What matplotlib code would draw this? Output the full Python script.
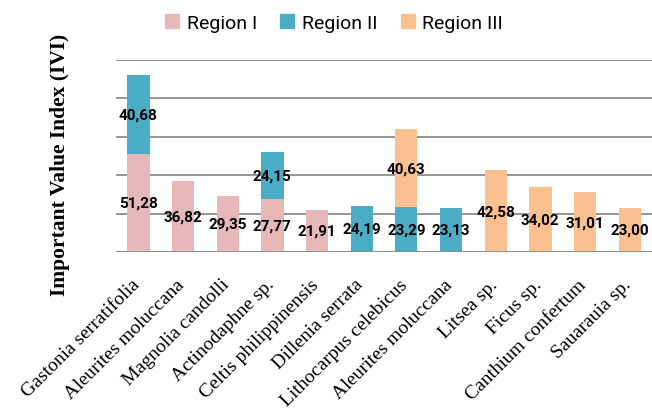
import numpy as np
import matplotlib
matplotlib.use("Agg")
import matplotlib.pyplot as plt
import matplotlib.transforms as mtransforms
from matplotlib.patches import Patch

# data
species = ["Gastonia serratifolia", "Aleurites moluccana", "Magnolia candolli",
           "Actinodaphne sp.", "Celtis philippinensis", "Dillenia serrata",
           "Lithocarpus celebicus", "Aleurites moluccana", "Litsea sp.",
           "Ficus sp.", "Canthium confertum", "Sauarauia sp."]
region1 = [51.28, 36.82, 29.35, 27.77, 21.91, 0, 0, 0, 0, 0, 0, 0]
region2 = [40.68, 0, 0, 24.15, 0, 24.19, 23.29, 23.13, 0, 0, 0, 0]
region3 = [0, 0, 0, 0, 0, 0, 40.63, 0, 42.58, 34.02, 31.01, 23.00]
regions = ["Region I", "Region II", "Region III"]
colors = ["#E6B9B8", "#4BACC6", "#FAC090"]

NUM_FONT = ["Roboto", "DejaVu Sans"]
SERIF = ["Liberation Serif", "DejaVu Serif"]

fig = plt.figure(figsize=(6.52, 4.10), dpi=100)
ax = fig.add_axes([116/652, 1 - 253/410, 536/652, (253 - 61)/410])

x = np.arange(len(species))
bottom = np.zeros(len(species))
for vals, col in zip([region1, region2, region3], colors):
    vals = np.array(vals)
    ax.bar(x, vals, width=0.5, bottom=bottom, color=col, zorder=3)
    for xi, b, v in zip(x, bottom, vals):
        if v > 0:
            ax.text(xi, b + v / 2, f"{v:.2f}".replace(".", ","), ha="center", va="center",
                    fontsize=11, fontweight="bold", family=NUM_FONT, zorder=4)
    bottom += vals

ax.set_xlim(-0.5, 11.5)
ax.set_ylim(0, 100)
ax.set_yticks(np.arange(0, 101, 20))
ax.yaxis.grid(True, color="#8c8c8c", lw=1.3, zorder=0)
ax.tick_params(axis="y", left=False, labelleft=False)
for s in ["top", "right", "left", "bottom"]:
    ax.spines[s].set_visible(False)
ax.axhline(0, color="#8c8c8c", lw=2, zorder=5)

ax.set_xticks(x)
ax.set_xticklabels(species, rotation=45, ha="right", va="top", family=SERIF, fontsize=14)
ax.tick_params(axis="x", length=0, pad=17)
shift = mtransforms.ScaledTranslation(5/100, 0, fig.dpi_scale_trans)
for lab in ax.get_xticklabels():
    lab.set_transform(lab.get_transform() + shift)

fig.text(60/652, 1 - 165/410, "Important Value Index (IVI)", rotation=90, ha="center",
         va="center", fontsize=15.5, fontweight="bold", family=SERIF)

handles = [Patch(color=c, label=r) for c, r in zip(colors, regions)]
fig.legend(handles=handles, loc="center", bbox_to_anchor=(334/652, 1 - 24/410), ncol=3,
           frameon=False, prop={"family": NUM_FONT, "size": 14}, handlelength=0.72,
           handleheight=0.72, handletextpad=0.4, columnspacing=1.2)

fig.savefig("out.png", dpi=100)
